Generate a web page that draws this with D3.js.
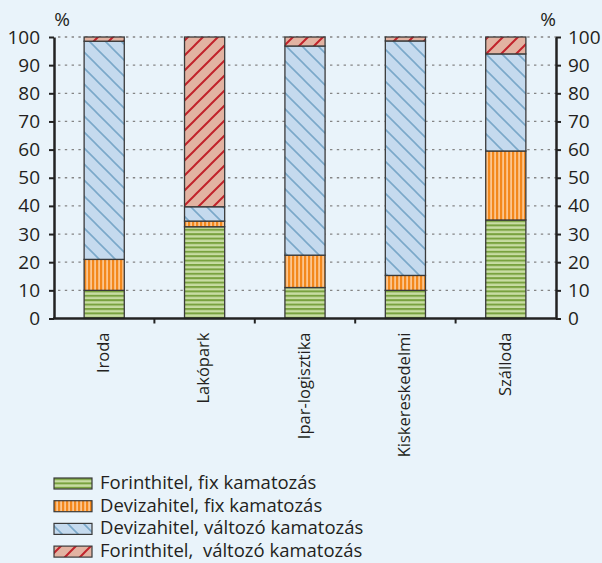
<!DOCTYPE html>
<html>
<head>
<meta charset="utf-8">
<script src="https://cdn.jsdelivr.net/npm/d3@7"></script>
<style>
  html, body { margin: 0; padding: 0; background: #e9f3fa; }
  svg { display: block; font-family: 'Open Sans', Lato, sans-serif; }
</style>
</head>
<body>
<svg id="chart" width="602" height="563"></svg>
<script>
// data
const categories = ['Iroda', 'Lakópark', 'Ipar-logisztika', 'Kiskereskedelmi', 'Szálloda'];
const seriesNames = [
    'Forinthitel, fix kamatozás',
    'Devizahitel, fix kamatozás',
    'Devizahitel, változó kamatozás',
    'Forinthitel,  változó kamatozás'
];
const forintFix = [10, 32.6, 11, 10, 35];
const devizaFix = [11, 2, 11.5, 5.3, 24.5];
const devizaValtozo = [77.5, 5.1, 74.3, 83.3, 34.5];
const forintValtozo = [1.5, 60.3, 3.2, 1.4, 6];
const yTicks = [0, 10, 20, 30, 40, 50, 60, 70, 80, 90, 100];

const width = 602, height = 563;
const plot = { left: 54, right: 556, top: 37, bottom: 318.5 };

const svg = d3.select('#chart');

// patterns for each series
const defs = svg.append('defs');

const pGreen = defs.append('pattern').attr('id', 'p0')
    .attr('patternUnits', 'userSpaceOnUse').attr('width', 8).attr('height', 4.4);
pGreen.append('rect').attr('width', 8).attr('height', 4.4).attr('fill', '#c8dca3');
pGreen.append('rect').attr('y', 0).attr('width', 8).attr('height', 2).attr('fill', '#79a23f');

const pOrange = defs.append('pattern').attr('id', 'p1')
    .attr('patternUnits', 'userSpaceOnUse').attr('width', 4).attr('height', 8);
pOrange.append('rect').attr('width', 4).attr('height', 8).attr('fill', '#fcc58e');
pOrange.append('rect').attr('x', 0).attr('width', 2.2).attr('height', 8).attr('fill', '#f3881c');

const pBlue = defs.append('pattern').attr('id', 'p2')
    .attr('patternUnits', 'userSpaceOnUse').attr('width', 16).attr('height', 16);
pBlue.append('rect').attr('width', 16).attr('height', 16).attr('fill', '#c5daee');
pBlue.append('path').attr('d', 'M-2,-2 L18,18 M-2,14 L2,18 M14,-2 L18,2')
    .attr('stroke', '#7aa8c9').attr('stroke-width', 1.6);

const pRed = defs.append('pattern').attr('id', 'p3')
    .attr('patternUnits', 'userSpaceOnUse').attr('width', 15).attr('height', 15);
pRed.append('rect').attr('width', 15).attr('height', 15).attr('fill', '#e2b3a2');
pRed.append('path').attr('d', 'M-2,17 L17,-2 M-2,2 L2,-2 M13,17 L17,13')
    .attr('stroke', '#c1232b').attr('stroke-width', 2);

// scales
const xScale = d3.scaleBand()
    .domain(categories)
    .range([plot.left, plot.right])
    .paddingInner(0.6)
    .paddingOuter(0.3);

const yScale = d3.scaleLinear()
    .domain([0, 100])
    .range([plot.bottom, plot.top]);

// gridlines
svg.append('g')
    .selectAll('line')
    .data(yTicks.filter(d => d > 0))
    .join('line')
    .attr('x1', plot.left + 4)
    .attr('x2', plot.right)
    .attr('y1', d => yScale(d))
    .attr('y2', d => yScale(d))
    .attr('stroke', '#858585')
    .attr('stroke-width', 1.3)
    .attr('stroke-dasharray', '2.4,4.4');

// stacked bars
const table = categories.map((c, i) => ({
    cat: c, s0: forintFix[i], s1: devizaFix[i], s2: devizaValtozo[i], s3: forintValtozo[i]
}));
const stacked = d3.stack().keys(['s0', 's1', 's2', 's3'])(table);

svg.append('g')
    .selectAll('g')
    .data(stacked)
    .join('g')
    .attr('fill', (d, i) => `url(#p${i})`)
    .selectAll('rect')
    .data(d => d)
    .join('rect')
    .attr('x', d => xScale(d.data.cat))
    .attr('width', xScale.bandwidth())
    .attr('y', d => yScale(d[1]))
    .attr('height', d => yScale(d[0]) - yScale(d[1]))
    .attr('stroke', '#3a3a3a')
    .attr('stroke-width', 1.3);

// left axis
const leftAxis = svg.append('g')
    .attr('transform', `translate(${plot.left}, 0)`)
    .call(d3.axisLeft(yScale).tickValues(yTicks).tickSize(5).tickSizeOuter(0).tickPadding(9));

// right axis
const rightAxis = svg.append('g')
    .attr('transform', `translate(${plot.right}, 0)`)
    .call(d3.axisRight(yScale).tickValues(yTicks).tickSize(5).tickSizeOuter(0).tickPadding(7));

[leftAxis, rightAxis].forEach(ax => {
    ax.select('.domain').attr('stroke', '#222').attr('stroke-width', 2.5);
    ax.selectAll('.tick line').attr('stroke', '#222').attr('stroke-width', 2);
    ax.selectAll('.tick text')
        .attr('fill', '#231f20')
        .style('font-family', "'Open Sans', sans-serif")
        .style('font-size', '19px');
});

// x axis line with ticks at the category boundaries
const step = xScale.step();
const boundaries = categories.map(c => xScale(c) + xScale.bandwidth() / 2 + step / 2).slice(0, -1);

svg.append('line')
    .attr('x1', plot.left - 1)
    .attr('x2', plot.right + 1)
    .attr('y1', plot.bottom)
    .attr('y2', plot.bottom)
    .attr('stroke', '#222')
    .attr('stroke-width', 2.5);

svg.append('g')
    .selectAll('line')
    .data(boundaries)
    .join('line')
    .attr('x1', d => d)
    .attr('x2', d => d)
    .attr('y1', plot.bottom)
    .attr('y2', plot.bottom + 5)
    .attr('stroke', '#222')
    .attr('stroke-width', 2);

// category labels, rotated
svg.append('g')
    .selectAll('text')
    .data(categories)
    .join('text')
    .attr('transform', d => `translate(${xScale(d) + xScale.bandwidth() / 2 - 1}, ${plot.bottom + 14}) rotate(-90)`)
    .attr('dy', '0.35em')
    .attr('text-anchor', 'end')
    .attr('fill', '#231f20')
    .style('font-size', '16.5px')
    .text(d => d);

// % labels above axes
svg.append('text')
    .attr('x', 62)
    .attr('y', 26)
    .attr('text-anchor', 'middle')
    .attr('fill', '#231f20')
    .style('font-size', '19px')
    .text('%');

svg.append('text')
    .attr('x', 548)
    .attr('y', 26)
    .attr('text-anchor', 'middle')
    .attr('fill', '#231f20')
    .style('font-size', '19px')
    .text('%');

// legend
const legend = svg.append('g')
    .attr('transform', 'translate(54, 478)');

seriesNames.forEach((name, i) => {
    legend.append('rect')
        .attr('x', 0)
        .attr('y', i * 22.7)
        .attr('width', 38)
        .attr('height', 11)
        .attr('fill', `url(#p${i})`)
        .attr('stroke', '#3a3a3a')
        .attr('stroke-width', 1.2);

    legend.append('text')
        .attr('x', 46)
        .attr('y', i * 22.7 + 11)
        .attr('fill', '#231f20')
        .style('font-size', '18.5px')
        .style('white-space', 'pre')
        .text(name);
});
</script>
</body>
</html>
